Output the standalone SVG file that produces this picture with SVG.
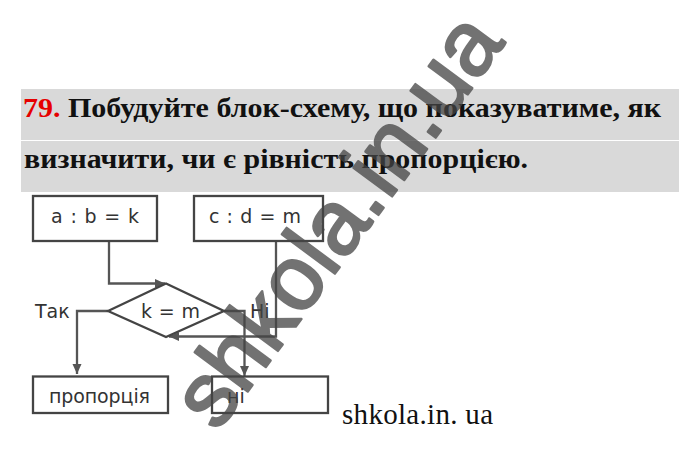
<svg xmlns="http://www.w3.org/2000/svg" width="700" height="456" viewBox="0 0 700 456">
<style>
.title{font-family:"Liberation Serif","Times New Roman",serif;font-weight:bold;font-size:28px;fill:#111}
.box{fill:#fff;stroke:#444;stroke-width:2.3}
.lbl{font-family:"DejaVu Sans",Verdana,sans-serif;font-size:19px;fill:#333}
.conn{fill:none;stroke:#555;stroke-width:2.3}
.wm{font-family:"Liberation Sans",Arial,sans-serif;font-size:91px;fill:#444;stroke:#444;stroke-width:2.5;stroke-linejoin:round;opacity:0.75}
</style>
<defs>
<marker id="arr" viewBox="0 0 10 10" refX="10" refY="5" markerWidth="10" markerHeight="10" markerUnits="userSpaceOnUse" orient="auto">
<path d="M0,0.5 L10,5 L0,9.5 Z" fill="#555"/>
</marker>
</defs>
<rect width="700" height="456" fill="#fff"/>
<g id="heading">
<rect x="21" y="89" width="658" height="51" fill="#d9d9d9"/>
<rect x="21" y="141" width="658" height="51" fill="#d9d9d9"/>
<text class="title" x="23" y="117" textLength="638" lengthAdjust="spacingAndGlyphs"><tspan fill="#e60000">79.</tspan> Побудуйте блок-схему, що показуватиме, як</text>
<text class="title" x="24" y="168" textLength="504" lengthAdjust="spacingAndGlyphs">визначити, чи є рівність пропорцією.</text>
</g>
<g id="connectors">
<polyline class="conn" points="109,241 109,283.5 165,283.5" marker-end="url(#arr)"/>
<polyline class="conn" points="276,241 276,336.5 169,336.5" marker-end="url(#arr)"/>
<polyline class="conn" points="108,311 77,311 77,374" marker-end="url(#arr)"/>
<polyline class="conn" points="224,311 244.5,311 244.5,376" marker-end="url(#arr)"/>
</g>
<g id="n_ab">
<rect class="box" x="33" y="196" width="124" height="45"/>
<text class="lbl" x="95" y="223" text-anchor="middle" textLength="88">a : b = k</text>
</g>
<g id="n_cd">
<rect class="box" x="194" y="196" width="129" height="45"/>
<text class="lbl" x="255" y="223" text-anchor="middle" textLength="92">c : d = m</text>
</g>
<g id="n_cmp">
<polygon class="box" points="108,311 166,283.5 224,311 166,337"/>
<text class="lbl" x="170.5" y="318" text-anchor="middle" textLength="59">k = m</text>
</g>
<g id="n_yes">
<rect class="box" x="33" y="376.5" width="135" height="36.5"/>
<text class="lbl" x="49" y="403" textLength="101">пропорція</text>
</g>
<g id="n_no">
<rect class="box" x="212" y="376.5" width="116" height="36.5"/>
<text class="lbl" x="227" y="403">ні</text>
</g>
<g id="labels">
<text class="lbl" x="35" y="318">Так</text>
<text class="lbl" x="250" y="318">Ні</text>
</g>
<text x="342" y="424" font-family="Liberation Serif,'Times New Roman',serif" font-size="29" fill="#111" textLength="151">shkola.in. ua</text>
<text class="wm" x="0" y="0" transform="translate(217,433) rotate(-53.5)">shkola.in.ua</text>
</svg>
